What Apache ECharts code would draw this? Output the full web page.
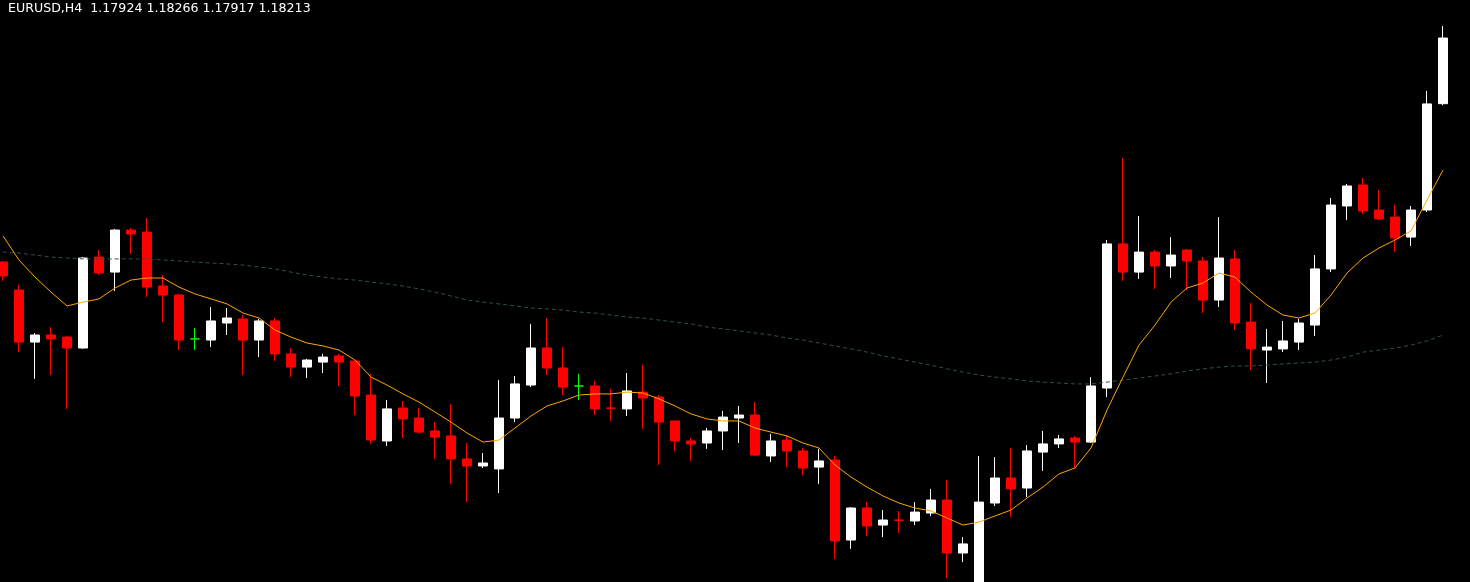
<!DOCTYPE html>
<html>
<head>
<meta charset="utf-8">
<script src="https://cdn.jsdelivr.net/npm/echarts@6/dist/echarts.min.js"></script>
<style>
html,body{margin:0;padding:0;background:#000;overflow:hidden;}
#chart{position:absolute;left:-5px;top:0;width:1475px;height:582px;}
</style>
</head>
<body>
<div id="chart"></div>
<script>
const symbol = 'EURUSD';
const timeframe = 'H4';

const opens = [
1.17227,1.17104,1.16875,1.16906,1.16897,1.16849,1.17249,1.17183,1.17368,1.17359,
1.17122,1.17082,1.16889,1.16884,1.16959,1.16977,1.16884,1.16968,1.16823,1.16765,
1.16787,1.16814,1.16792,1.16642,1.16440,1.16585,1.16541,1.16484,1.16462,1.16361,
1.16330,1.16317,1.16541,1.16686,1.16849,1.16761,1.16682,1.16682,1.16585,1.16581,
1.16655,1.16633,1.16528,1.16440,1.16431,1.16484,1.16541,1.16554,1.16374,1.16444,
1.16396,1.16325,1.16356,1.16004,1.16145,1.16070,1.16092,1.16088,1.16123,1.16180,
1.15947,1.15740,1.16167,1.16277,1.16233,1.16391,1.16427,1.16453,1.16435,1.16673,
1.17307,1.17183,1.17271,1.17210,1.17280,1.17232,1.17060,1.17241,1.16963,1.16840,
1.16845,1.16875,1.16950,1.17197,1.17474,1.17566,1.17456,1.17425,1.17337,1.17456,
1.17924];

const highs = [
1.17232,1.17126,1.16915,1.16941,1.16902,1.17249,1.17280,1.17373,1.17377,1.17421,
1.17170,1.17087,1.16937,1.17029,1.17025,1.16994,1.16977,1.16981,1.16849,1.16801,
1.16823,1.16823,1.16792,1.16735,1.16620,1.16616,1.16585,1.16523,1.16603,1.16431,
1.16387,1.16708,1.16726,1.16955,1.16981,1.16853,1.16735,1.16704,1.16669,1.16739,
1.16774,1.16642,1.16528,1.16453,1.16497,1.16572,1.16594,1.16611,1.16471,1.16466,
1.16409,1.16405,1.16374,1.16149,1.16171,1.16136,1.16132,1.16171,1.16229,1.16268,
1.16017,1.16374,1.16369,1.16409,1.16422,1.16484,1.16466,1.16462,1.16721,1.17324,
1.17685,1.17430,1.17280,1.17337,1.17285,1.17249,1.17425,1.17280,1.17047,1.16933,
1.16968,1.16977,1.17258,1.17509,1.17571,1.17597,1.17544,1.17478,1.17474,1.17980,
1.18266];

const lows = [
1.17144,1.16831,1.16713,1.16730,1.16581,1.16845,1.17170,1.17100,1.17263,1.17073,
1.16963,1.16840,1.16840,1.16853,1.16906,1.16730,1.16809,1.16792,1.16721,1.16717,
1.16739,1.16682,1.16554,1.16427,1.16418,1.16453,1.16475,1.16361,1.16251,1.16171,
1.16321,1.16211,1.16523,1.16677,1.16730,1.16642,1.16620,1.16554,1.16528,1.16550,
1.16493,1.16334,1.16396,1.16352,1.16405,1.16400,1.16431,1.16374,1.16347,1.16325,
1.16290,1.16251,1.15921,1.15965,1.16022,1.16017,1.16035,1.16070,1.16110,1.15837,
1.15907,1.15718,1.16154,1.16105,1.16193,1.16308,1.16409,1.16321,1.16431,1.16633,
1.17144,1.17153,1.17109,1.17157,1.17104,1.17003,1.17029,1.16928,1.16752,1.16695,
1.16831,1.16840,1.16902,1.17183,1.17412,1.17439,1.17412,1.17271,1.17298,1.17447,
1.17917];

const closes = [
1.17166,1.16875,1.16906,1.16889,1.16849,1.17245,1.17179,1.17368,1.17351,1.17117,
1.17082,1.16884,1.16889,1.16968,1.16981,1.16884,1.16968,1.16823,1.16765,1.16796,
1.16809,1.16787,1.16638,1.16444,1.16581,1.16537,1.16479,1.16457,1.16361,1.16330,
1.16343,1.16541,1.16691,1.16849,1.16761,1.16677,1.16682,1.16581,1.16584,1.16660,
1.16629,1.16523,1.16440,1.16427,1.16484,1.16545,1.16554,1.16378,1.16440,1.16396,
1.16321,1.16352,1.16000,1.16145,1.16066,1.16092,1.16091,1.16127,1.16180,1.15947,
1.15987,1.16171,1.16277,1.16229,1.16396,1.16427,1.16449,1.16435,1.16682,1.17307,
1.17183,1.17271,1.17210,1.17258,1.17232,1.17060,1.17245,1.16959,1.16845,1.16853,
1.16880,1.16959,1.17197,1.17478,1.17562,1.17452,1.17417,1.17333,1.17456,1.17923,
1.18213];

const maFast = [
1.17342,1.17236,1.17161,1.17095,1.17034,1.17051,1.17065,1.17113,1.17148,1.17157,
1.17157,1.17117,1.17087,1.17065,1.17043,1.17003,1.16981,1.16928,1.16897,1.16871,
1.16858,1.16840,1.16796,1.16721,1.16686,1.16647,1.16611,1.16567,1.16523,1.16475,
1.16435,1.16444,1.16497,1.16550,1.16594,1.16616,1.16642,1.16647,1.16647,1.16655,
1.16651,1.16625,1.16594,1.16559,1.16537,1.16528,1.16528,1.16497,1.16479,1.16462,
1.16431,1.16409,1.16334,1.16281,1.16237,1.16198,1.16167,1.16145,1.16132,1.16101,
1.16070,1.16083,1.16110,1.16136,1.16189,1.16237,1.16295,1.16321,1.16409,1.16576,
1.16721,1.16862,1.16950,1.17051,1.17113,1.17135,1.17179,1.17161,1.17095,1.17038,
1.16994,1.16981,1.17003,1.17082,1.17179,1.17245,1.17289,1.17324,1.17364,1.17500,
1.17632];

const maSlow = [
1.17271,1.17267,1.17258,1.17249,1.17245,1.17241,1.17241,1.17241,1.17241,1.17241,
1.17236,1.17232,1.17227,1.17223,1.17219,1.17214,1.17205,1.17197,1.17183,1.17170,
1.17161,1.17153,1.17148,1.17139,1.17131,1.17122,1.17109,1.17095,1.17078,1.17060,
1.17051,1.17043,1.17034,1.17025,1.17021,1.17016,1.17007,1.17003,1.16994,1.16985,
1.16981,1.16972,1.16963,1.16955,1.16941,1.16933,1.16924,1.16915,1.16906,1.16893,
1.16884,1.16871,1.16858,1.16845,1.16831,1.16814,1.16801,1.16787,1.16774,1.16757,
1.16743,1.16730,1.16721,1.16713,1.16704,1.16699,1.16695,1.16691,1.16691,1.16699,
1.16708,1.16717,1.16726,1.16735,1.16748,1.16757,1.16765,1.16770,1.16770,1.16774,
1.16779,1.16783,1.16787,1.16796,1.16809,1.16831,1.16840,1.16849,1.16862,1.16880,
1.16906];

const categories = opens.map((_, i) => 'Bar ' + (i + 1));
const candleData = opens.map((o, i) => [o, closes[i], lows[i], highs[i]]);

const last = opens.length - 1;
const headerText = symbol + ',' + timeframe + '  ' +
  [opens[last], highs[last], lows[last], closes[last]].map(v => v.toFixed(5)).join(' ');

const chart = echarts.init(document.getElementById('chart'), null, {renderer: 'canvas'});
chart.setOption({
  backgroundColor: '#000000',
  animation: false,
  title: {
    text: headerText,
    left: 13,
    top: 3,
    padding: 0,
    textStyle: {
      color: '#ffffff',
      fontFamily: 'DejaVu Sans',
      fontSize: 12.6,
      fontWeight: 'normal',
      lineHeight: 12
    }
  },
  grid: {left: 0, right: 19, top: 0, bottom: 0, containLabel: false},
  xAxis: {
    type: 'category',
    data: categories,
    boundaryGap: true,
    show: false
  },
  yAxis: {
    type: 'value',
    min: 1.158194,
    max: 1.183802,
    show: false,
    splitLine: {show: false}
  },
  series: [
    {
      type: 'candlestick',
      data: candleData,
      barWidth: 10,
      clip: true,
      itemStyle: {
        color: '#ffffff',
        color0: '#ff0000',
        borderColor: '#ffffff',
        borderColor0: '#ff0000',
        borderColorDoji: '#00ff00',
        borderWidth: 1
      },
      z: 2
    },
    {
      type: 'line',
      data: maSlow,
      showSymbol: false,
      symbol: 'none',
      lineStyle: {color: '#2f4f4f', width: 1, type: [4, 3]},
      z: 3
    },
    {
      type: 'line',
      data: maFast,
      showSymbol: false,
      symbol: 'none',
      lineStyle: {color: '#ffa500', width: 1},
      z: 4
    }
  ]
});
</script>
</body>
</html>
